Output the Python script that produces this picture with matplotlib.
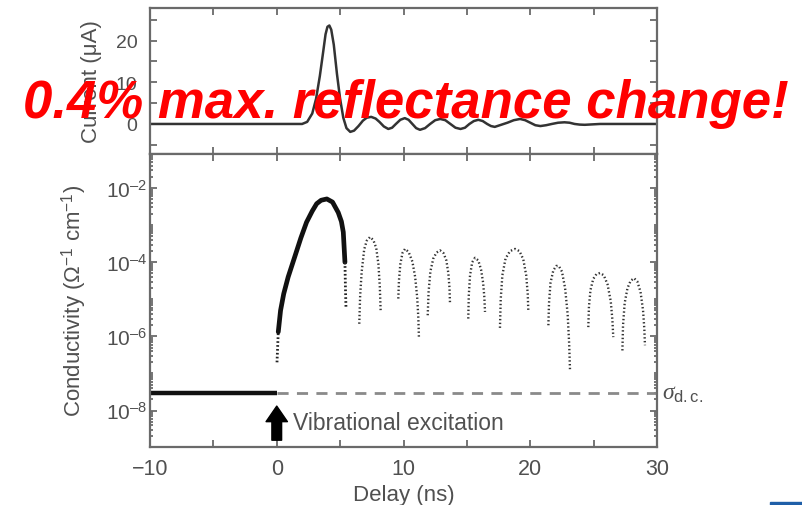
import matplotlib
matplotlib.use("Agg")
import matplotlib.pyplot as plt
from matplotlib.patches import Rectangle
import numpy as np

plt.rcParams['font.family'] = ['Liberation Sans', 'DejaVu Sans']
plt.rcParams['mathtext.fontset'] = 'custom'
plt.rcParams['mathtext.rm'] = 'Liberation Sans'
plt.rcParams['mathtext.it'] = 'Liberation Serif:italic'
plt.rcParams['mathtext.bf'] = 'Liberation Sans:bold'

# ---------------- data ----------------
# top panel: current (uA) vs delay (ns)
cur_x = [-10, 2.0, 2.4, 2.8, 3.1, 3.4, 3.65, 3.85, 4.0, 4.15, 4.3, 4.5, 4.75, 5.0, 5.25, 5.5, 5.8,
         6.1, 6.45, 6.8, 7.1, 7.45, 7.8, 8.1, 8.45, 8.8, 9.1, 9.4, 9.75, 10.1, 10.4,
         10.7, 11.0, 11.3, 11.7, 12.1, 12.5, 12.9, 13.3, 13.7, 14.1, 14.5, 14.85, 15.2,
         15.55, 15.9, 16.25, 16.6, 16.9, 17.2, 17.7, 18.2, 18.7, 19.2, 19.6, 20.0, 20.4,
         20.8, 21.25, 21.7, 22.2, 22.7, 23.1, 23.5, 23.9, 24.3, 24.9, 25.5, 30]
cur_y = [0, 0, 0.5, 2.5, 6.0, 11.5, 17.0, 21.5, 23.3, 23.6, 22.6, 19.0, 12.0, 6.0, 1.5, -1.0, -1.9,
         -1.6, -0.5, 0.8, 1.5, 1.7, 1.3, 0.5, -0.6, -1.2, -0.9, 0.0, 1.0, 1.4, 1.0,
         0.0, -1.0, -1.4, -1.0, 0.0, 0.9, 1.2, 0.9, 0.0, -0.9, -1.2, -0.9, 0.0,
         0.7, 1.0, 0.7, 0.0, -0.5, -0.7, -0.2, 0.3, 0.9, 1.2, 0.9, 0.3, -0.3,
         -0.5, -0.3, 0.0, 0.3, 0.4, 0.3, 0.0, -0.15, -0.2, -0.1, 0.0, 0.0]
assert len(cur_x) == len(cur_y)

# bottom panel: conductivity (Ohm^-1 cm^-1)
sigma_dc = 3.0e-8
pre_x = [-10, 0]
start_dot_x = [0.02, 0.12]
start_dot_s = [2.0e-7, 1.32e-6]
main_x = [0.12, 0.3, 0.55, 0.9, 1.45, 1.9, 2.35, 2.8, 3.15, 3.5, 3.95, 4.4, 4.85, 5.1, 5.25, 5.38]
main_s = [1.32e-6, 5.0e-6, 1.41e-5, 4.0e-5, 1.51e-4, 4.5e-4, 1.2e-3, 2.4e-3, 3.8e-3, 4.7e-3,
          5.1e-3, 4.2e-3, 2.2e-3, 1.26e-3, 6.5e-4, 1.0e-4]
tail_x = [5.38, 5.42, 5.46]
tail_s = [1.0e-4, 2.0e-5, 6.2e-6]

arch1_x = [6.51, 6.58, 6.70, 6.90, 7.10, 7.36, 7.62, 7.85, 8.02, 8.13, 8.20]
arch1_l = [-5.66, -4.90, -4.26, -3.65, -3.42, -3.32, -3.40, -3.62, -4.05, -4.65, -5.34]
arch2_x = [9.59, 9.64, 9.75, 9.92, 10.12, 10.40, 10.70, 10.92, 11.08, 11.17, 11.22]
arch2_l = [-4.98, -4.50, -4.05, -3.75, -3.64, -3.72, -3.98, -4.40, -4.95, -5.50, -6.06]
arch3_x = [11.91, 11.98, 12.12, 12.35, 12.60, 12.88, 13.15, 13.38, 13.54, 13.63, 13.67]
arch3_l = [-5.43, -4.80, -4.25, -3.90, -3.74, -3.68, -3.75, -3.95, -4.30, -4.70, -5.12]
arch4_x = [15.11, 15.15, 15.25, 15.42, 15.64, 15.90, 16.12, 16.28, 16.38, 16.43]
arch4_l = [-5.52, -4.90, -4.35, -4.00, -3.88, -3.95, -4.20, -4.55, -4.95, -5.34]
arch5_x = [17.61, 17.67, 17.80, 18.05, 18.40, 18.80, 19.15, 19.45, 19.68, 19.80, 19.85]
arch5_l = [-5.77, -5.00, -4.35, -3.90, -3.70, -3.64, -3.70, -3.92, -4.35, -4.85, -5.34]
arch6_x = [21.43, 21.48, 21.60, 21.82, 22.05, 22.25, 22.50, 22.75, 22.95, 23.07, 23.14]
arch6_l = [-5.70, -5.10, -4.55, -4.22, -4.10, -4.10, -4.25, -4.70, -5.40, -6.20, -6.94]
arch7_x = [24.58, 24.63, 24.75, 24.97, 25.22, 25.50, 25.80, 26.10, 26.35, 26.48, 26.55]
arch7_l = [-5.75, -5.20, -4.75, -4.45, -4.32, -4.29, -4.35, -4.60, -5.05, -5.55, -6.02]
arch8_x = [27.27, 27.32, 27.45, 27.67, 27.92, 28.19, 28.45, 28.70, 28.90, 29.00, 29.05]
arch8_l = [-6.38, -5.70, -5.10, -4.70, -4.50, -4.43, -4.52, -4.80, -5.30, -5.80, -6.24]
arches = [(arch1_x, arch1_l), (arch2_x, arch2_l), (arch3_x, arch3_l), (arch4_x, arch4_l),
          (arch5_x, arch5_l), (arch6_x, arch6_l), (arch7_x, arch7_l), (arch8_x, arch8_l)]

x_ticks = [-10, 0, 10, 20, 30]
x_tick_labels = ['\u221210', '0', '10', '20', '30']
cur_ticks = [0, 10, 20]
log_ticks = [1e-8, 1e-6, 1e-4, 1e-2]
log_exps = ['8', '6', '4', '2']
log_tick_labels = ['10$^{\\mathregular{\u2013' + e + '}}$' for e in log_exps]

# ---------------- figure ----------------
W, H = 802, 506
fig = plt.figure(figsize=(W / 100, H / 100), dpi=100)
gray = '#505050'
spine_c = '#6a6a6a'
line_c = '#222222'
tick_fs = 14
label_fs = 16

L, R = 150 / W, 657 / W
ax1 = fig.add_axes([L, 1 - 155 / H, R - L, (155 - 9) / H])
ax2 = fig.add_axes([L, 1 - 447.5 / H, R - L, (447.5 - 155) / H])

for ax in (ax1, ax2):
    for s in ax.spines.values():
        s.set_color(spine_c)
        s.set_linewidth(1.6)
    ax.set_xlim(-10, 30)
    ax.tick_params(which='both', direction='in', top=True, right=True, colors=spine_c,
                   labelcolor=gray, labelsize=tick_fs, width=1.3)
    ax.tick_params(which='major', length=5)
    ax.tick_params(which='minor', length=5)
    ax.set_xticks(x_ticks)
    ax.set_xticks([-5, 5, 15, 25], minor=True)

# top panel
ax1.plot(cur_x, cur_y, color='#333333', lw=1.8)
ax1.set_ylim(-7.2, 27.8)
ax1.set_yticks(cur_ticks)
ax1.set_yticks([-5, 5, 15, 25], minor=True)
ax1.tick_params(axis='x', labelbottom=False)
ax1.tick_params(axis='y', pad=9)
ax1.set_ylabel('Current (\u03bcA)', color=gray, fontsize=label_fs)
ax1.yaxis.set_label_coords((102 - 150) / 507, 0.5)

# bottom panel
ax2.set_yscale('log')
ax2.set_ylim(10 ** -8.97, 10 ** -1.08)
ax2.plot(pre_x, [sigma_dc, sigma_dc], color='#111111', lw=3.2, solid_capstyle='butt')
ax2.plot([0, 30], [sigma_dc, sigma_dc], color='#8a8a8a', lw=2.0, dashes=(4, 3))
ax2.plot(start_dot_x, start_dot_s, color=line_c, lw=2.0, dashes=(0.6, 0.8))
ax2.plot(main_x, main_s, color='#111111', lw=3.4, solid_capstyle='round')
ax2.plot(tail_x, tail_s, color=line_c, lw=2.0, dashes=(0.6, 0.8))
for ax_, al_ in arches:
    ax2.plot(ax_, [10.0 ** v for v in al_], color='#333333', lw=1.7, dashes=(0.6, 1.0))

ax2.set_yticks(log_ticks)
ax2.set_yticklabels(log_tick_labels)
ax2.yaxis.set_minor_locator(matplotlib.ticker.LogLocator(base=10, subs=np.arange(1, 10) * 1.0, numticks=50))
ax2.yaxis.set_minor_formatter(matplotlib.ticker.NullFormatter())
ax2.tick_params(axis='y', which='minor', length=2.5)
ax2.tick_params(axis='y', pad=2, labelsize=15)
ax2.tick_params(axis='x', pad=8, labelsize=15.5)
ax2.set_xticklabels(x_tick_labels)
ax2.set_xlabel('Delay (ns)', color=gray, fontsize=label_fs, labelpad=4)
ax2.set_ylabel(r'Conductivity ($\Omega^{\mathregular{-1}}$ cm$^{\mathregular{-1}}$)', color=gray, fontsize=label_fs)
ax2.yaxis.set_label_coords((89 - 150) / 507, 0.5)

# annotations
ax2.annotate('', xy=(0, 10 ** -7.88), xytext=(0, 10 ** -8.8),
             arrowprops=dict(arrowstyle='simple,head_width=1.1,head_length=0.8,tail_width=0.5',
                             color='black', mutation_scale=14, shrinkA=0, shrinkB=0))
ax2.text(1.25, 10 ** -8.33, 'Vibrational excitation', color=gray, fontsize=16.5, va='center', ha='left')
ax2.text(1.010, sigma_dc, r'$\sigma_{\mathregular{d.c.}}$', transform=ax2.get_yaxis_transform(),
         color=gray, fontsize=17, va='center', ha='left')

# overlay text
fig.text(406 / W, 1 - 118 / H, '0.4% max. reflectance change!', color='#ff0000', fontsize=38,
         fontweight='bold', fontstyle='italic', ha='center', va='baseline')

# small blue bar at bottom right
fig.patches.append(Rectangle((770 / W, 0), 32 / W, 3 / H, transform=fig.transFigure,
                             color='#1f5fa8', zorder=5))

fig.savefig('out.png', dpi=100)
